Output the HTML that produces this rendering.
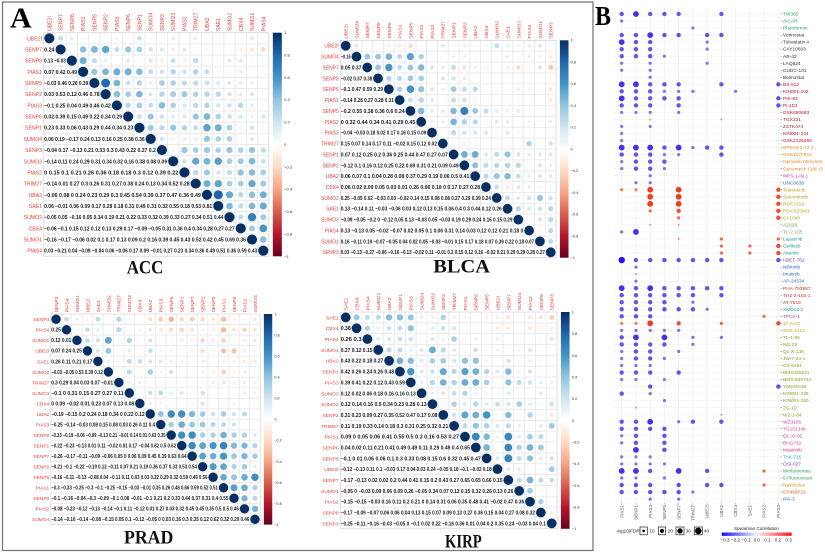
<!DOCTYPE html>
<html><head><meta charset="utf-8">
<style>
html,body{margin:0;padding:0;background:#fff;width:825px;height:557px;overflow:hidden;}
svg{display:block;}
.rl{font-family:"Liberation Sans",sans-serif;font-size:4.6px;fill:#e8413c;text-anchor:end;}
.cl{font-family:"Liberation Sans",sans-serif;font-size:4.6px;fill:#e8413c;}
.nm{font-family:"Liberation Sans",sans-serif;font-size:4.9px;font-weight:bold;fill:#1a1a1a;}
.cb{font-family:"Liberation Sans",sans-serif;font-size:3.6px;fill:#333;}
.ttl{font-family:"Liberation Serif",serif;font-weight:bold;font-size:19px;fill:#111;}
.big{font-family:"Liberation Serif",serif;font-weight:bold;fill:#000;}
.bl{font-family:"Liberation Sans",sans-serif;font-size:4.8px;}
.bc{font-family:"Liberation Sans",sans-serif;font-size:4.5px;fill:#555;text-anchor:end;}
.lg{font-family:"Liberation Sans",sans-serif;font-size:4.6px;fill:#222;}
</style></head>
<body>
<svg id="S" xmlns="http://www.w3.org/2000/svg" width="825" height="557" viewBox="0 0 825 557">
<defs>
<pattern id="grid" width="10" height="10" patternUnits="userSpaceOnUse"><rect width="10" height="10" fill="#fff" stroke="#dcdcdc" stroke-width="0.5"/></pattern>
<linearGradient id="rdbu" x1="0" y1="0" x2="0" y2="1">
<stop offset="0" stop-color="#053061"/><stop offset="0.1" stop-color="#2166ac"/><stop offset="0.2" stop-color="#4393c3"/><stop offset="0.3" stop-color="#92c5de"/><stop offset="0.4" stop-color="#d1e5f0"/><stop offset="0.5" stop-color="#ffffff"/><stop offset="0.6" stop-color="#fddbc7"/><stop offset="0.7" stop-color="#f4a582"/><stop offset="0.8" stop-color="#d6604d"/><stop offset="0.9" stop-color="#b2182b"/><stop offset="1" stop-color="#67001f"/>
</linearGradient>
<linearGradient id="bwr" x1="0" y1="0" x2="1" y2="0">
<stop offset="0" stop-color="#1010ff"/><stop offset="0.5" stop-color="#f4f0fa"/><stop offset="1" stop-color="#ff1a1a"/>
</linearGradient>
</defs>
<rect width="825" height="557" fill="#fff"/>
<rect x="2.5" y="2" width="590.5" height="548.5" fill="none" stroke="#7a7a7a" stroke-width="1.3"/>
<text class="big" x="10" y="27.3" font-size="28" textLength="21.7" lengthAdjust="spacingAndGlyphs">A</text>
<text class="big" x="595" y="25" font-size="27" textLength="16" lengthAdjust="spacingAndGlyphs">B</text>

<!-- ACC -->
<g class="mat" transform="translate(43.7,32.7) scale(1.126,1.118)">
<rect width="200" height="200" fill="url(#grid)" stroke="#d0d0d0" stroke-width="0.5"/>
<g class="circ"></g>
<text class="nm" x="0.4" y="16.8" textLength="9.2" lengthAdjust="spacingAndGlyphs">0.24</text>
<text class="nm" x="0.4" y="26.8" textLength="19.2" lengthAdjust="spacingAndGlyphs">0.13 −0.03</text>
<text class="nm" x="0.4" y="36.8" textLength="29.2" lengthAdjust="spacingAndGlyphs">0.07 0.42 0.49</text>
<text class="nm" x="0.4" y="46.8" textLength="39.2" lengthAdjust="spacingAndGlyphs">−0.03 0.46 0.26 0.39</text>
<text class="nm" x="0.4" y="56.8" textLength="49.2" lengthAdjust="spacingAndGlyphs">0.03 0.53 0.12 0.46 0.78</text>
<text class="nm" x="0.4" y="66.8" textLength="59.2" lengthAdjust="spacingAndGlyphs">−0.1 0.25 0.04 0.49 0.46 0.42</text>
<text class="nm" x="0.4" y="76.8" textLength="69.2" lengthAdjust="spacingAndGlyphs">0.02 0.39 0.15 0.49 0.22 0.34 0.29</text>
<text class="nm" x="0.4" y="86.8" textLength="79.2" lengthAdjust="spacingAndGlyphs">0.23 0.33 0.06 0.43 0.29 0.44 0.34 0.23</text>
<text class="nm" x="0.4" y="96.8" textLength="89.2" lengthAdjust="spacingAndGlyphs">0.06 0.19 −0.17 0.24 0.13 0.16 0.25 0.38 0.36</text>
<text class="nm" x="0.4" y="106.8" textLength="99.2" lengthAdjust="spacingAndGlyphs">−0.04 0.17 −0.13 0.21 0.33 0.3 0.43 0.22 0.27 0.2</text>
<text class="nm" x="0.4" y="116.8" textLength="109.2" lengthAdjust="spacingAndGlyphs">−0.14 0.11 0.24 0.29 0.31 0.34 0.32 0.16 0.38 0.08 0.09</text>
<text class="nm" x="0.4" y="126.8" textLength="119.2" lengthAdjust="spacingAndGlyphs">0 0.15 0.1 0.21 0.26 0.36 0.18 0.18 0.3 0.12 0.39 0.22</text>
<text class="nm" x="0.4" y="136.8" textLength="129.2" lengthAdjust="spacingAndGlyphs">−0.14 0.01 0.27 0.3 0.26 0.31 0.27 0.38 0.24 0.13 0.34 0.52 0.28</text>
<text class="nm" x="0.4" y="146.8" textLength="139.2" lengthAdjust="spacingAndGlyphs">−0.06 0.08 0 0.24 0.23 0.29 0.3 0.45 0.54 0.39 0.37 0.47 0.36 0.49</text>
<text class="nm" x="0.4" y="156.8" textLength="149.2" lengthAdjust="spacingAndGlyphs">0.06 −0.01 0.06 0.09 0.17 0.28 0.18 0.31 0.49 0.31 0.32 0.55 0.18 0.53 0.81</text>
<text class="nm" x="0.4" y="166.8" textLength="159.2" lengthAdjust="spacingAndGlyphs">−0.05 0.05 −0.16 0.05 0.14 0.19 0.21 0.22 0.33 0.32 0.39 0.33 0.27 0.34 0.51 0.44</text>
<text class="nm" x="0.4" y="176.8" textLength="169.2" lengthAdjust="spacingAndGlyphs">−0.06 −0.1 0.15 0.12 0.12 0.13 0.29 0.17 −0.09 −0.05 0.31 0.36 0.4 0.34 0.28 0.27 0.27</text>
<text class="nm" x="0.4" y="186.8" textLength="179.2" lengthAdjust="spacingAndGlyphs">−0.16 −0.17 −0.06 0.02 0.1 0.17 0.13 0.09 0.2 0.16 0.39 0.45 0.43 0.52 0.42 0.45 0.69 0.36</text>
<text class="nm" x="0.4" y="196.8" textLength="189.2" lengthAdjust="spacingAndGlyphs">0.03 −0.21 0.04 −0.09 −0.04 0.06 −0.06 0.17 0.09 −0.01 0.27 0.23 0.34 0.36 0.49 0.51 0.36 0.59 0.43</text>
<text class="rl"><tspan x="-1.5" y="6.8">UBE2I</tspan><tspan x="-1.5" dy="10">SENP7</tspan><tspan x="-1.5" dy="10">SENP8</tspan><tspan x="-1.5" dy="10">PIAS1</tspan><tspan x="-1.5" dy="10">SENP5</tspan><tspan x="-1.5" dy="10">SENP2</tspan><tspan x="-1.5" dy="10">PIAS3</tspan><tspan x="-1.5" dy="10">SENP6</tspan><tspan x="-1.5" dy="10">SENP1</tspan><tspan x="-1.5" dy="10">SUMO4</tspan><tspan x="-1.5" dy="10">SENP3</tspan><tspan x="-1.5" dy="10">SUMO3</tspan><tspan x="-1.5" dy="10">PIAS2</tspan><tspan x="-1.5" dy="10">TRIM27</tspan><tspan x="-1.5" dy="10">UBA2</tspan><tspan x="-1.5" dy="10">SAE1</tspan><tspan x="-1.5" dy="10">SUMO2</tspan><tspan x="-1.5" dy="10">CBX4</tspan><tspan x="-1.5" dy="10">SUMO1</tspan><tspan x="-1.5" dy="10">PIAS4</tspan></text>
<text class="cl" transform="rotate(-90)"><tspan x="1.5" y="6.8">UBE2I</tspan><tspan x="1.5" dy="10">SENP7</tspan><tspan x="1.5" dy="10">SENP8</tspan><tspan x="1.5" dy="10">PIAS1</tspan><tspan x="1.5" dy="10">SENP5</tspan><tspan x="1.5" dy="10">SENP2</tspan><tspan x="1.5" dy="10">PIAS3</tspan><tspan x="1.5" dy="10">SENP6</tspan><tspan x="1.5" dy="10">SENP1</tspan><tspan x="1.5" dy="10">SUMO4</tspan><tspan x="1.5" dy="10">SENP3</tspan><tspan x="1.5" dy="10">SUMO3</tspan><tspan x="1.5" dy="10">PIAS2</tspan><tspan x="1.5" dy="10">TRIM27</tspan><tspan x="1.5" dy="10">UBA2</tspan><tspan x="1.5" dy="10">SAE1</tspan><tspan x="1.5" dy="10">SUMO2</tspan><tspan x="1.5" dy="10">CBX4</tspan><tspan x="1.5" dy="10">SUMO1</tspan><tspan x="1.5" dy="10">PIAS4</tspan></text>
<rect x="203.5" y="0" width="8" height="200" fill="url(#rdbu)"/>
<text class="cb"><tspan x="213.5" y="1.3">1</tspan><tspan x="213.5" dy="20">0.8</tspan><tspan x="213.5" dy="20">0.6</tspan><tspan x="213.5" dy="20">0.4</tspan><tspan x="213.5" dy="20">0.2</tspan><tspan x="213.5" dy="20">0</tspan><tspan x="213.5" dy="20">−0.2</tspan><tspan x="213.5" dy="20">−0.4</tspan><tspan x="213.5" dy="20">−0.6</tspan><tspan x="213.5" dy="20">−0.8</tspan><tspan x="213.5" dy="20">−1</tspan></text>
</g>
<text class="ttl" x="126.7" y="273.3" textLength="36.7" lengthAdjust="spacingAndGlyphs">ACC</text>

<!-- BLCA -->
<g class="mat" transform="translate(340.3,40.3) scale(1.079,1.087)">
<rect width="200" height="200" fill="url(#grid)" stroke="#d0d0d0" stroke-width="0.5"/>
<g class="circ"></g>
<text class="nm" x="0.4" y="16.8" textLength="9.2" lengthAdjust="spacingAndGlyphs">−0.16</text>
<text class="nm" x="0.4" y="26.8" textLength="19.2" lengthAdjust="spacingAndGlyphs">0.05 0.37</text>
<text class="nm" x="0.4" y="36.8" textLength="29.2" lengthAdjust="spacingAndGlyphs">−0.02 0.37 0.38</text>
<text class="nm" x="0.4" y="46.8" textLength="39.2" lengthAdjust="spacingAndGlyphs">−0.1 0.47 0.59 0.29</text>
<text class="nm" x="0.4" y="56.8" textLength="49.2" lengthAdjust="spacingAndGlyphs">−0.14 0.28 0.27 0.28 0.31</text>
<text class="nm" x="0.4" y="66.8" textLength="59.2" lengthAdjust="spacingAndGlyphs">−0.2 0.55 0.38 0.36 0.6 0.24</text>
<text class="nm" x="0.4" y="76.8" textLength="69.2" lengthAdjust="spacingAndGlyphs">0 0.32 0.44 0.34 0.41 0.29 0.45</text>
<text class="nm" x="0.4" y="86.8" textLength="79.2" lengthAdjust="spacingAndGlyphs">−0.04 −0.03 0.18 0.02 0.17 0.16 0.15 0.09</text>
<text class="nm" x="0.4" y="96.8" textLength="89.2" lengthAdjust="spacingAndGlyphs">0.15 0.07 0.14 0.17 0.11 −0.02 0.15 0.12 0.02</text>
<text class="nm" x="0.4" y="106.8" textLength="99.2" lengthAdjust="spacingAndGlyphs">0.07 0.12 0.25 0.2 0.36 0.25 0.44 0.47 0.27 0.07</text>
<text class="nm" x="0.4" y="116.8" textLength="109.2" lengthAdjust="spacingAndGlyphs">−0.12 0.1 0.16 0.12 0.25 0.22 0.69 0.31 0.21 0.09 0.49</text>
<text class="nm" x="0.4" y="126.8" textLength="119.2" lengthAdjust="spacingAndGlyphs">0.06 0.07 0.1 0.04 0.28 0.08 0.37 0.29 0.19 0.06 0.5 0.41</text>
<text class="nm" x="0.4" y="136.8" textLength="129.2" lengthAdjust="spacingAndGlyphs">0.06 0.02 0.09 0.05 0.03 0.01 0.26 0.06 0.18 0 0.17 0.27 0.28</text>
<text class="nm" x="0.4" y="146.8" textLength="139.2" lengthAdjust="spacingAndGlyphs">0.25 −0.05 0.02 −0.03 0.03 −0.02 0.14 0.15 0.08 0.08 0.27 0.29 0.39 0.24</text>
<text class="nm" x="0.4" y="156.8" textLength="149.2" lengthAdjust="spacingAndGlyphs">0.13 −0.14 0.11 −0.03 −0.06 0.03 0.12 0.13 0.15 0.06 0.4 0.3 0.44 0.12 0.26</text>
<text class="nm" x="0.4" y="166.8" textLength="159.2" lengthAdjust="spacingAndGlyphs">−0.09 −0.05 −0.2 0 −0.12 0.05 0.13 −0.03 0.05 −0.03 0.19 0.29 0.24 0.16 0.15 0.29</text>
<text class="nm" x="0.4" y="176.8" textLength="169.2" lengthAdjust="spacingAndGlyphs">0.13 −0.13 0.05 −0.02 −0.07 0.02 0.05 0.1 0.06 0.31 0.14 0.03 0.12 0.12 0.21 0.18 0</text>
<text class="nm" x="0.4" y="186.8" textLength="179.2" lengthAdjust="spacingAndGlyphs">0.16 −0.11 0.19 −0.07 −0.05 0.04 0.02 0.05 −0.03 −0.01 0.15 0.17 0.18 0.07 0.39 0.22 0.18 0.07</text>
<text class="nm" x="0.4" y="196.8" textLength="189.2" lengthAdjust="spacingAndGlyphs">0.03 −0.13 −0.27 −0.06 −0.16 −0.13 −0.02 0.11 −0.01 0.2 0.15 0.12 0.16 −0.02 0.21 0.29 0.29 0.28 0.27</text>
<text class="rl"><tspan x="-1.5" y="6.8">UBE2I</tspan><tspan x="-1.5" dy="10">SUMO4</tspan><tspan x="-1.5" dy="10">SENP7</tspan><tspan x="-1.5" dy="10">SENP8</tspan><tspan x="-1.5" dy="10">SENP6</tspan><tspan x="-1.5" dy="10">PIAS1</tspan><tspan x="-1.5" dy="10">SENP5</tspan><tspan x="-1.5" dy="10">PIAS2</tspan><tspan x="-1.5" dy="10">PIAS3</tspan><tspan x="-1.5" dy="10">TRIM27</tspan><tspan x="-1.5" dy="10">SENP1</tspan><tspan x="-1.5" dy="10">SENP2</tspan><tspan x="-1.5" dy="10">UBA2</tspan><tspan x="-1.5" dy="10">CBX4</tspan><tspan x="-1.5" dy="10">SUMO2</tspan><tspan x="-1.5" dy="10">SAE1</tspan><tspan x="-1.5" dy="10">SUMO3</tspan><tspan x="-1.5" dy="10">PIAS4</tspan><tspan x="-1.5" dy="10">SUMO1</tspan><tspan x="-1.5" dy="10">SENP3</tspan></text>
<text class="cl" transform="rotate(-90)"><tspan x="1.5" y="6.8">UBE2I</tspan><tspan x="1.5" dy="10">SUMO4</tspan><tspan x="1.5" dy="10">SENP7</tspan><tspan x="1.5" dy="10">SENP8</tspan><tspan x="1.5" dy="10">SENP6</tspan><tspan x="1.5" dy="10">PIAS1</tspan><tspan x="1.5" dy="10">SENP5</tspan><tspan x="1.5" dy="10">PIAS2</tspan><tspan x="1.5" dy="10">PIAS3</tspan><tspan x="1.5" dy="10">TRIM27</tspan><tspan x="1.5" dy="10">SENP1</tspan><tspan x="1.5" dy="10">SENP2</tspan><tspan x="1.5" dy="10">UBA2</tspan><tspan x="1.5" dy="10">CBX4</tspan><tspan x="1.5" dy="10">SUMO2</tspan><tspan x="1.5" dy="10">SAE1</tspan><tspan x="1.5" dy="10">SUMO3</tspan><tspan x="1.5" dy="10">PIAS4</tspan><tspan x="1.5" dy="10">SUMO1</tspan><tspan x="1.5" dy="10">SENP3</tspan></text>
<rect x="203.5" y="0" width="8" height="200" fill="url(#rdbu)"/>
<text class="cb"><tspan x="213.5" y="1.3">1</tspan><tspan x="213.5" dy="20">0.8</tspan><tspan x="213.5" dy="20">0.6</tspan><tspan x="213.5" dy="20">0.4</tspan><tspan x="213.5" dy="20">0.2</tspan><tspan x="213.5" dy="20">0</tspan><tspan x="213.5" dy="20">−0.2</tspan><tspan x="213.5" dy="20">−0.4</tspan><tspan x="213.5" dy="20">−0.6</tspan><tspan x="213.5" dy="20">−0.8</tspan><tspan x="213.5" dy="20">−1</tspan></text>
</g>
<text class="ttl" x="433.3" y="272.7" textLength="56.7" lengthAdjust="spacingAndGlyphs">BLCA</text>

<!-- PRAD -->
<g class="mat" transform="translate(50.8,314) scale(1.047,1.053)">
<rect width="200" height="200" fill="url(#grid)" stroke="#d0d0d0" stroke-width="0.5"/>
<g class="circ"></g>
<text class="nm" x="0.4" y="16.8" textLength="9.2" lengthAdjust="spacingAndGlyphs">0.25</text>
<text class="nm" x="0.4" y="26.8" textLength="19.2" lengthAdjust="spacingAndGlyphs">0.12 0.01</text>
<text class="nm" x="0.4" y="36.8" textLength="29.2" lengthAdjust="spacingAndGlyphs">0.07 0.24 0.25</text>
<text class="nm" x="0.4" y="46.8" textLength="39.2" lengthAdjust="spacingAndGlyphs">0.26 0.11 0.21 0.17</text>
<text class="nm" x="0.4" y="56.8" textLength="49.2" lengthAdjust="spacingAndGlyphs">−0.03 −0.05 0.53 0.39 0.12</text>
<text class="nm" x="0.4" y="66.8" textLength="59.2" lengthAdjust="spacingAndGlyphs">0.3 0.29 0.04 0.03 0.07 −0.01</text>
<text class="nm" x="0.4" y="76.8" textLength="69.2" lengthAdjust="spacingAndGlyphs">−0.1 0 0.31 0.15 0.27 0.27 0.11</text>
<text class="nm" x="0.4" y="86.8" textLength="79.2" lengthAdjust="spacingAndGlyphs">0 0.09 −0.02 0.01 0.23 0.07 0.13 0.08</text>
<text class="nm" x="0.4" y="96.8" textLength="89.2" lengthAdjust="spacingAndGlyphs">−0.19 −0.15 0.2 0.24 0.18 0.34 0 0.22 0.12</text>
<text class="nm" x="0.4" y="106.8" textLength="99.2" lengthAdjust="spacingAndGlyphs">−0.25 −0.14 −0.03 0.08 0.15 0.08 0.03 0.26 0.11 0.4</text>
<text class="nm" x="0.4" y="116.8" textLength="109.2" lengthAdjust="spacingAndGlyphs">−0.33 −0.19 −0.06 −0.09 −0.13 0.21 −0.01 0.14 0.01 0.63 0.35</text>
<text class="nm" x="0.4" y="126.8" textLength="119.2" lengthAdjust="spacingAndGlyphs">−0.22 −0.23 −0.13 0.01 0.11 −0.02 0.01 0.17 −0.04 0.62 0.5 0.62</text>
<text class="nm" x="0.4" y="136.8" textLength="129.2" lengthAdjust="spacingAndGlyphs">−0.26 −0.17 −0.11 −0.09 −0.06 0.05 0 0.06 0.09 0.45 0.39 0.63 0.64</text>
<text class="nm" x="0.4" y="146.8" textLength="139.2" lengthAdjust="spacingAndGlyphs">−0.21 −0.1 −0.22 −0.19 0.12 −0.11 0.07 0.21 0.19 0.36 0.37 0.33 0.53 0.54</text>
<text class="nm" x="0.4" y="156.8" textLength="149.2" lengthAdjust="spacingAndGlyphs">−0.16 −0.11 −0.13 −0.08 0.04 −0.11 0.11 0.03 0.03 0.22 0.29 0.32 0.59 0.49 0.56</text>
<text class="nm" x="0.4" y="166.8" textLength="159.2" lengthAdjust="spacingAndGlyphs">−0.3 −0.33 −0.25 −0.3 −0.1 −0.25 −0.15 −0.03 −0.01 0.35 0.26 0.48 0.66 0.59 0.52 0.51</text>
<text class="nm" x="0.4" y="176.8" textLength="169.2" lengthAdjust="spacingAndGlyphs">−0.1 −0.16 −0.04 −0.3 −0.09 −0.1 0.08 −0.01 −0.1 0.21 0.2 0.33 0.44 0.37 0.31 0.4 0.55</text>
<text class="nm" x="0.4" y="186.8" textLength="179.2" lengthAdjust="spacingAndGlyphs">−0.08 −0.23 −0.12 −0.13 −0.14 −0.1 0.11 −0.12 0.01 0.27 0.03 0.32 0.45 0.45 0.35 0.5 0.5 0.46</text>
<text class="nm" x="0.4" y="196.8" textLength="189.2" lengthAdjust="spacingAndGlyphs">−0.14 −0.16 −0.14 −0.08 −0.15 0.05 0.1 −0.12 −0.05 0 0.03 0.16 0.3 0.35 0.12 0.62 0.32 0.29 0.46</text>
<text class="rl"><tspan x="-1.5" y="6.8">SENP3</tspan><tspan x="-1.5" dy="10">PIAS4</tspan><tspan x="-1.5" dy="10">SUMO1</tspan><tspan x="-1.5" dy="10">UBE2I</tspan><tspan x="-1.5" dy="10">SAE1</tspan><tspan x="-1.5" dy="10">SUMO2</tspan><tspan x="-1.5" dy="10">TRIM27</tspan><tspan x="-1.5" dy="10">SUMO3</tspan><tspan x="-1.5" dy="10">CBX4</tspan><tspan x="-1.5" dy="10">UBA2</tspan><tspan x="-1.5" dy="10">PIAS3</tspan><tspan x="-1.5" dy="10">SENP6</tspan><tspan x="-1.5" dy="10">SENP1</tspan><tspan x="-1.5" dy="10">SENP7</tspan><tspan x="-1.5" dy="10">SENP2</tspan><tspan x="-1.5" dy="10">SENP5</tspan><tspan x="-1.5" dy="10">PIAS1</tspan><tspan x="-1.5" dy="10">SENP8</tspan><tspan x="-1.5" dy="10">PIAS2</tspan><tspan x="-1.5" dy="10">SUMO4</tspan></text>
<text class="cl" transform="rotate(-90)"><tspan x="1.5" y="6.8">SENP3</tspan><tspan x="1.5" dy="10">PIAS4</tspan><tspan x="1.5" dy="10">SUMO1</tspan><tspan x="1.5" dy="10">UBE2I</tspan><tspan x="1.5" dy="10">SAE1</tspan><tspan x="1.5" dy="10">SUMO2</tspan><tspan x="1.5" dy="10">TRIM27</tspan><tspan x="1.5" dy="10">SUMO3</tspan><tspan x="1.5" dy="10">CBX4</tspan><tspan x="1.5" dy="10">UBA2</tspan><tspan x="1.5" dy="10">PIAS3</tspan><tspan x="1.5" dy="10">SENP6</tspan><tspan x="1.5" dy="10">SENP1</tspan><tspan x="1.5" dy="10">SENP7</tspan><tspan x="1.5" dy="10">SENP2</tspan><tspan x="1.5" dy="10">SENP5</tspan><tspan x="1.5" dy="10">PIAS1</tspan><tspan x="1.5" dy="10">SENP8</tspan><tspan x="1.5" dy="10">PIAS2</tspan><tspan x="1.5" dy="10">SUMO4</tspan></text>
<rect x="203.5" y="0" width="8" height="200" fill="url(#rdbu)"/>
<text class="cb"><tspan x="213.5" y="1.3">1</tspan><tspan x="213.5" dy="20">0.8</tspan><tspan x="213.5" dy="20">0.6</tspan><tspan x="213.5" dy="20">0.4</tspan><tspan x="213.5" dy="20">0.2</tspan><tspan x="213.5" dy="20">0</tspan><tspan x="213.5" dy="20">−0.2</tspan><tspan x="213.5" dy="20">−0.4</tspan><tspan x="213.5" dy="20">−0.6</tspan><tspan x="213.5" dy="20">−0.8</tspan><tspan x="213.5" dy="20">−1</tspan></text>
</g>
<text class="ttl" x="124" y="543.3" textLength="49.3" lengthAdjust="spacingAndGlyphs">PRAD</text>

<!-- KIRP -->
<g class="mat" transform="translate(340.3,312) scale(1.084,1.084)">
<rect width="200" height="200" fill="url(#grid)" stroke="#d0d0d0" stroke-width="0.5"/>
<g class="circ"></g>
<text class="nm" x="0.4" y="16.8" textLength="9.2" lengthAdjust="spacingAndGlyphs">0.38</text>
<text class="nm" x="0.4" y="26.8" textLength="19.2" lengthAdjust="spacingAndGlyphs">0.26 0.3</text>
<text class="nm" x="0.4" y="36.8" textLength="29.2" lengthAdjust="spacingAndGlyphs">0.27 0.12 0.15</text>
<text class="nm" x="0.4" y="46.8" textLength="39.2" lengthAdjust="spacingAndGlyphs">0.43 0.22 0.18 0.27</text>
<text class="nm" x="0.4" y="56.8" textLength="49.2" lengthAdjust="spacingAndGlyphs">0.42 0.26 0.24 0.26 0.48</text>
<text class="nm" x="0.4" y="66.8" textLength="59.2" lengthAdjust="spacingAndGlyphs">0.39 0.41 0.22 0.12 0.43 0.59</text>
<text class="nm" x="0.4" y="76.8" textLength="69.2" lengthAdjust="spacingAndGlyphs">0.12 0.02 0.06 0.18 0.16 0.16 0.13</text>
<text class="nm" x="0.4" y="86.8" textLength="79.2" lengthAdjust="spacingAndGlyphs">0.12 0.14 0.16 0.5 0.34 0.23 0.28 0.13</text>
<text class="nm" x="0.4" y="96.8" textLength="89.2" lengthAdjust="spacingAndGlyphs">0.31 0.23 0.09 0.27 0.35 0.52 0.47 0.17 0.08</text>
<text class="nm" x="0.4" y="106.8" textLength="99.2" lengthAdjust="spacingAndGlyphs">0.11 0.19 0.33 0.14 0.18 0.3 0.31 0.25 0.32 0.21</text>
<text class="nm" x="0.4" y="116.8" textLength="109.2" lengthAdjust="spacingAndGlyphs">0.09 0 0.05 0.06 0.41 0.55 0.5 0.3 0.16 0.53 0.27</text>
<text class="nm" x="0.4" y="126.8" textLength="119.2" lengthAdjust="spacingAndGlyphs">0.04 0.02 0.11 0.21 0.41 0.49 0.49 0.11 0.29 0.49 0.4 0.65</text>
<text class="nm" x="0.4" y="136.8" textLength="129.2" lengthAdjust="spacingAndGlyphs">−0.1 0.01 0.06 0.06 0.1 0.3 0.33 0.08 0.15 0.6 0.32 0.45 0.47</text>
<text class="nm" x="0.4" y="146.8" textLength="139.2" lengthAdjust="spacingAndGlyphs">−0.12 −0.13 0.11 0.1 −0.03 0.17 0.04 0.03 0.24 −0.05 0.18 −0.1 −0.02 0.18</text>
<text class="nm" x="0.4" y="156.8" textLength="149.2" lengthAdjust="spacingAndGlyphs">−0.17 −0.13 0.02 0.02 0.2 0.44 0.41 0.15 0.2 0.43 0.27 0.65 0.65 0.66 0.15</text>
<text class="nm" x="0.4" y="166.8" textLength="159.2" lengthAdjust="spacingAndGlyphs">−0.05 0 −0.03 0.09 0.06 0.09 0.26 −0.05 0.34 0.07 0.12 0.15 0.32 0.26 0.13 0.26</text>
<text class="nm" x="0.4" y="176.8" textLength="169.2" lengthAdjust="spacingAndGlyphs">−0.15 −0.15 −0.03 0.16 0.11 0.2 0.21 0 0.14 0.31 0.06 0.35 0.48 0.41 −0.02 0.47 0.36</text>
<text class="nm" x="0.4" y="186.8" textLength="179.2" lengthAdjust="spacingAndGlyphs">−0.17 −0.09 −0.07 0.06 0.06 0.04 0.13 0.15 0.07 0.09 0.13 0.27 0.36 0.15 0.04 0.27 0.08 0.32</text>
<text class="nm" x="0.4" y="196.8" textLength="189.2" lengthAdjust="spacingAndGlyphs">−0.25 −0.11 −0.16 −0.03 −0.05 0 −0.1 0.02 0.22 −0.16 0.36 0.01 0.04 0.2 0.35 0.24 −0.03 0.04 0.1</text>
<text class="rl"><tspan x="-1.5" y="6.8">SAE1</tspan><tspan x="-1.5" dy="10">CBX4</tspan><tspan x="-1.5" dy="10">PIAS4</tspan><tspan x="-1.5" dy="10">SUMO1</tspan><tspan x="-1.5" dy="10">UBA2</tspan><tspan x="-1.5" dy="10">SENP1</tspan><tspan x="-1.5" dy="10">PIAS3</tspan><tspan x="-1.5" dy="10">SUMO3</tspan><tspan x="-1.5" dy="10">SUMO2</tspan><tspan x="-1.5" dy="10">SENP2</tspan><tspan x="-1.5" dy="10">TRIM27</tspan><tspan x="-1.5" dy="10">PIAS1</tspan><tspan x="-1.5" dy="10">SENP6</tspan><tspan x="-1.5" dy="10">SENP5</tspan><tspan x="-1.5" dy="10">UBE2I</tspan><tspan x="-1.5" dy="10">SENP7</tspan><tspan x="-1.5" dy="10">SUMO4</tspan><tspan x="-1.5" dy="10">PIAS2</tspan><tspan x="-1.5" dy="10">SENP8</tspan><tspan x="-1.5" dy="10">SENP3</tspan></text>
<text class="cl" transform="rotate(-90)"><tspan x="1.5" y="6.8">SAE1</tspan><tspan x="1.5" dy="10">CBX4</tspan><tspan x="1.5" dy="10">PIAS4</tspan><tspan x="1.5" dy="10">SUMO1</tspan><tspan x="1.5" dy="10">UBA2</tspan><tspan x="1.5" dy="10">SENP1</tspan><tspan x="1.5" dy="10">PIAS3</tspan><tspan x="1.5" dy="10">SUMO3</tspan><tspan x="1.5" dy="10">SUMO2</tspan><tspan x="1.5" dy="10">SENP2</tspan><tspan x="1.5" dy="10">TRIM27</tspan><tspan x="1.5" dy="10">PIAS1</tspan><tspan x="1.5" dy="10">SENP6</tspan><tspan x="1.5" dy="10">SENP5</tspan><tspan x="1.5" dy="10">UBE2I</tspan><tspan x="1.5" dy="10">SENP7</tspan><tspan x="1.5" dy="10">SUMO4</tspan><tspan x="1.5" dy="10">PIAS2</tspan><tspan x="1.5" dy="10">SENP8</tspan><tspan x="1.5" dy="10">SENP3</tspan></text>
<rect x="203.5" y="0" width="8" height="200" fill="url(#rdbu)"/>
<text class="cb"><tspan x="213.5" y="1.3">1</tspan><tspan x="213.5" dy="20">0.8</tspan><tspan x="213.5" dy="20">0.6</tspan><tspan x="213.5" dy="20">0.4</tspan><tspan x="213.5" dy="20">0.2</tspan><tspan x="213.5" dy="20">0</tspan><tspan x="213.5" dy="20">−0.2</tspan><tspan x="213.5" dy="20">−0.4</tspan><tspan x="213.5" dy="20">−0.6</tspan><tspan x="213.5" dy="20">−0.8</tspan><tspan x="213.5" dy="20">−1</tspan></text>
</g>
<text class="ttl" x="445" y="547.7" textLength="36.7" lengthAdjust="spacingAndGlyphs">KIRP</text>

<!-- Panel B -->
<g id="bgrid"></g>
<g id="bdots"></g>
<text class="bl" transform="translate(783,15.6)"><tspan x="0" fill="#2ca25f">TW365</tspan><tspan x="0" dy="7.03" fill="#2ca25f">AICAR</tspan><tspan x="0" dy="7.03" fill="#2ca25f">Phenformin</tspan><tspan x="0" dy="7.03" fill="#333">Vorinostat</tspan><tspan x="0" dy="7.03" fill="#333">Tubastatin A</tspan><tspan x="0" dy="7.03" fill="#333">CAY10603</tspan><tspan x="0" dy="7.03" fill="#333">AR-42</tspan><tspan x="0" dy="7.03" fill="#333">LAQ824</tspan><tspan x="0" dy="7.03" fill="#333">CUDC-101</tspan><tspan x="0" dy="7.03" fill="#333">Belinostat</tspan><tspan x="0" dy="7.03" fill="#b2182b">BX-912</tspan><tspan x="0" dy="7.03" fill="#b2182b">KIN001-102</tspan><tspan x="0" dy="7.03" fill="#b2182b">PIK-93</tspan><tspan x="0" dy="7.03" fill="#b2182b">PI-103</tspan><tspan x="0" dy="7.03" fill="#b2182b">GSK690693</tspan><tspan x="0" dy="7.03" fill="#b2182b">TGX221</tspan><tspan x="0" dy="7.03" fill="#b2182b">ZSTK474</tspan><tspan x="0" dy="7.03" fill="#b2182b">KIN001-244</tspan><tspan x="0" dy="7.03" fill="#b2182b">GSK2126458</tspan><tspan x="0" dy="7.03" fill="#e6891f">NPK76-II-72-1</tspan><tspan x="0" dy="7.03" fill="#e6891f">GSK1070916</tspan><tspan x="0" dy="7.03" fill="#e6891f">Ispinesib Mesylate</tspan><tspan x="0" dy="7.03" fill="#e6891f">Genentech Cpd 10</tspan><tspan x="0" dy="7.03" fill="#d63fa0">MPS-1-IN-1</tspan><tspan x="0" dy="7.03" fill="#3b64c4">UNC0638</tspan><tspan x="0" dy="7.03" fill="#b8a51e">Trametinib</tspan><tspan x="0" dy="7.03" fill="#b8a51e">Selumetinib</tspan><tspan x="0" dy="7.03" fill="#b8a51e">RDEA119</tspan><tspan x="0" dy="7.03" fill="#b8a51e">PD-0325901</tspan><tspan x="0" dy="7.03" fill="#b8a51e">CI-1040</tspan><tspan x="0" dy="7.03" fill="#6aa84f">AZ628</tspan><tspan x="0" dy="7.03" fill="#6aa84f">TL-2-105</tspan><tspan x="0" dy="7.03" fill="#1f9e9e">Lapatinib</tspan><tspan x="0" dy="7.03" fill="#1f9e9e">Gefitinib</tspan><tspan x="0" dy="7.03" fill="#1f9e9e">Afatinib</tspan><tspan x="0" dy="7.03" fill="#7b3fb0">I-BET-762</tspan><tspan x="0" dy="7.03" fill="#3b64c4">Nilotinib</tspan><tspan x="0" dy="7.03" fill="#3b64c4">Imatinib</tspan><tspan x="0" dy="7.03" fill="#3b64c4">AP-24534</tspan><tspan x="0" dy="7.03" fill="#c0392b">PHA-793887</tspan><tspan x="0" dy="7.03" fill="#c0392b">THZ-2-102-1</tspan><tspan x="0" dy="7.03" fill="#c0392b">AT-7519</tspan><tspan x="0" dy="7.03" fill="#1f9e9e">XMD13-2</tspan><tspan x="0" dy="7.03" fill="#7b3fb0">TPCA-1</tspan><tspan x="0" dy="7.03" fill="#b8a51e">17-AAG</tspan><tspan x="0" dy="7.03" fill="#b8a51e">SNX-2112</tspan><tspan x="0" dy="7.03" fill="#7ea31f">TL-1-85</tspan><tspan x="0" dy="7.03" fill="#7ea31f">NG-25</tspan><tspan x="0" dy="7.03" fill="#7ea31f">QL-X-138</tspan><tspan x="0" dy="7.03" fill="#7ea31f">JW-7-24-1</tspan><tspan x="0" dy="7.03" fill="#7ea31f">CX-5461</tspan><tspan x="0" dy="7.03" fill="#7ea31f">BMS345541</tspan><tspan x="0" dy="7.03" fill="#7ea31f">BMS-509744</tspan><tspan x="0" dy="7.03" fill="#7ea31f">YM201636</tspan><tspan x="0" dy="7.03" fill="#7ea31f">KIN001-236</tspan><tspan x="0" dy="7.03" fill="#7ea31f">KIN001-260</tspan><tspan x="0" dy="7.03" fill="#7ea31f">ZG-10</tspan><tspan x="0" dy="7.03" fill="#7ea31f">WZ-1-84</tspan><tspan x="0" dy="7.03" fill="#d63fa0">WZ3105</tspan><tspan x="0" dy="7.03" fill="#d63fa0">TG101348</tspan><tspan x="0" dy="7.03" fill="#d63fa0">QL-XI-92</tspan><tspan x="0" dy="7.03" fill="#d63fa0">BHG712</tspan><tspan x="0" dy="7.03" fill="#d63fa0">Masitinib</tspan><tspan x="0" dy="7.03" fill="#22a7c0">TAK-715</tspan><tspan x="0" dy="7.03" fill="#7b3fb0">OSI-027</tspan><tspan x="0" dy="7.03" fill="#2ca25f">Methotrexate</tspan><tspan x="0" dy="7.03" fill="#2ca25f">5-Fluorouracil</tspan><tspan x="0" dy="7.03" fill="#e6891f">Navitoclax</tspan><tspan x="0" dy="7.03" fill="#e05a2a">CP466722</tspan><tspan x="0" dy="7.03" fill="#3b64c4">IPA-3</tspan></text>
<text class="bc" transform="rotate(-90)"><tspan x="-505" y="623.3">PIAS1</tspan><tspan x="-505" y="637.54">SENP1</tspan><tspan x="-505" y="651.78">PIAS4</tspan><tspan x="-505" y="666.02">SENP5</tspan><tspan x="-505" y="680.26">SENP7</tspan><tspan x="-505" y="694.5">TRIM27</tspan><tspan x="-505" y="708.74">UBE2I</tspan><tspan x="-505" y="722.98">UBA2</tspan><tspan x="-505" y="737.22">CBX4</tspan><tspan x="-505" y="751.46">SAE1</tspan><tspan x="-505" y="765.7">PIAS2</tspan><tspan x="-505" y="779.94">PIAS3</tspan></text>

<!-- Legend B -->
<text class="lg" x="616" y="532.7">-log10(FDR)</text>
<rect x="640" y="527" width="7.3" height="7.8" fill="#fff" stroke="#222" stroke-width="0.7"/><circle cx="643.65" cy="530.9" r="1.3" fill="#000"/>
<text class="lg" x="649.5" y="532.7">10</text>
<rect x="658.3" y="527" width="7.4" height="7.8" fill="#fff" stroke="#222" stroke-width="0.7"/><circle cx="662" cy="530.9" r="2" fill="#000"/>
<text class="lg" x="667.8" y="532.7">20</text>
<rect x="676" y="527" width="8" height="7.8" fill="#fff" stroke="#222" stroke-width="0.7"/><circle cx="680" cy="530.9" r="2.7" fill="#000"/>
<text class="lg" x="685.8" y="532.7">30</text>
<rect x="694.3" y="527" width="8" height="7.8" fill="#fff" stroke="#222" stroke-width="0.7"/><circle cx="698.3" cy="530.9" r="3.3" fill="#000"/>
<text class="lg" x="704" y="532.7">40</text>
<text class="lg" x="756.5" y="530" text-anchor="middle">Spearman Correlation</text>
<rect x="721.7" y="532.5" width="70" height="3.4" fill="url(#bwr)"/>
<text class="lg" y="541.6" text-anchor="middle"><tspan x="725">−0.3</tspan><tspan x="735.6">−0.2</tspan><tspan x="746.2">−0.1</tspan><tspan x="756.8">0.0</tspan><tspan x="767.4">0.1</tspan><tspan x="778">0.2</tspan><tspan x="788.6">0.3</tspan></text>
</svg>
<script>
(function(){
var NS='http://www.w3.org/2000/svg';
var stops=[[-1,[103,0,31]],[-0.8,[178,24,43]],[-0.6,[214,96,77]],[-0.4,[244,165,130]],[-0.2,[253,219,199]],[0,[255,255,255]],[0.2,[209,229,240]],[0.4,[146,197,222]],[0.6,[67,147,195]],[0.8,[33,102,172]],[1,[5,48,97]]];
function col(v){v=Math.max(-1,Math.min(1,v));for(var k=0;k<stops.length-1;k++){var a=stops[k],b=stops[k+1];if(v<=b[0]){var t=(v-a[0])/(b[0]-a[0]);var c=[0,1,2].map(function(i){return Math.round(a[1][i]+(b[1][i]-a[1][i])*t);});return 'rgb('+c.join(',')+')';}}return 'rgb(5,48,97)';}
function el(n,attrs,parent){var e=document.createElementNS(NS,n);for(var k in attrs)e.setAttribute(k,attrs[k]);parent.appendChild(e);return e;}
var mats=document.querySelectorAll('g.mat');
for(var m=0;m<mats.length;m++){
 var g=mats[m];var cg=g.querySelector('g.circ');
 var add=function(cx,cy,v){el('circle',{cx:cx,cy:cy,r:(4.5*Math.sqrt(Math.abs(v))).toFixed(2),fill:col(v)},cg);};
 for(var i=0;i<20;i++)add(10*i+5,10*i+5,1);
 var ts=g.querySelectorAll('text.nm');
 for(var r=0;r<ts.length;r++){
  var ii=r+1;var vals=ts[r].textContent.replace(/\u2212/g,'-').trim().split(/\s+/).map(Number);
  for(var j=0;j<vals.length;j++)add(10*ii+5,10*j+5,vals[j]);
 }
}
// Panel B
var gg=document.getElementById('bgrid'),gd=document.getElementById('bdots');
function cx(k){return 621.7+14.24*k;} function cy(i){return 14+7.03*i;}
for(var k=0;k<12;k++)el('line',{x1:cx(k),x2:cx(k),y1:8,y2:503,stroke:'#e6e6e6','stroke-width':0.5},gg);
for(var i=0;i<70;i++){el('line',{x1:614,x2:786,y1:cy(i),y2:cy(i),stroke:'#ececec','stroke-width':0.5},gg);el('line',{x1:780.5,x2:782.3,y1:cy(i),y2:cy(i),stroke:'#666','stroke-width':0.4},gg);}
for(var k=0;k<12;k++)el('line',{x1:cx(k),x2:cx(k),y1:503,y2:504.8,stroke:'#666','stroke-width':0.4},gg);
var B=["0m 1l 2m 3m 4m 7m","0s","5s","0m 1m 2l 3m 4m 6m 7m","0l 1m 2m 6s","0m 1m 2m 6s","0m 1m 2m 3s","0s 2s 6s","0s 2s","2s",
"0l 1l 2m 3m 4m 7m 11m","0m 1m 2m 3s 4s 5s 8s","0l 1m 2m 3m 4m 11m","0m 1m 2m 4m 11m","0s 1s 2s 4s","2to 7to","0s 2s","0s","0s",
"0l 1l 2l 3m 4l 5s 6m 7m","0m 1m 2m 3s 4s 7m","0s 1m 2m 3m","0s 1m 2m 3s","2s","1s 2s",
"0so 1so 2lr 4lr 11mr","2lr 4lr 11mr","2lr 4lr 11mr","2sr 4mr 11mr","4sr 11mr","2tr 4tr","0s 1l","4tr 7sr 11sr","7sr 9sr 11mr","7sr 9sr 11mr",
"0L 1m 2m 3m 4m 5m 6m 7m 11m","1s","1t","1s","0l 1m 2l 3m 4m 5m 6m 7m","0m 1m 2m 3m 4m 5m 7m","0m 1m 2m 3m 5s","0m 1m 2m 3m 4m 5m 6s","0m 1m 2m 10sr",
"0so 1so 2lr 4mr 7sr 11mr","0s 1s 2s 3s 4s","0m 1l 3l 5s 7s","0m 1m 2m 3m 5s","0s 1m 2m 4s","0s 1m 2m 3s","0s 1s 2s","0m 1m 2m 4m","0s 1s 3s","2m 11m","0m 2s","3s","1t","7tr",
"0m 1m 2l 4s 5m 7m","0m 1m 2m 3m","0s 1m 3m","0s 1m 3m","1l 3m","0s 1s 2s","0s 1s 2s 3s","0l 1l 2m 4l 6m 10sr","0s 1s 3s","0m 1m 2m 4m 6m 7m 10sr","0m 1m 2m 3m 4m 5s","2s 4s"];
var R={t:1,s:1.6,m:2.2,l:2.9,L:3.2};
var CB={t:'#a49ae9',s:'#8174e6',m:'#6554e3',l:'#4232e8',L:'#2a10ee'};
var CR={t:'#ee9070',s:'#ec6c4a',m:'#ec5030',l:'#f03c1c',L:'#f03010'};
var CO={t:'#dca070',s:'#d88c50',m:'#d87a40',l:'#d86a30',L:'#d86a30'};
for(var i=0;i<B.length;i++){
 var toks=B[i].split(' ');
 for(var t=0;t<toks.length;t++){
  var m2=toks[t].match(/^(\d+)([tsmlL])([ro]?)$/);if(!m2)continue;
  var k=+m2[1],s=m2[2],c=m2[3];
  var fill=c==='r'?CR[s]:(c==='o'?CO[s]:CB[s]);
  el('circle',{cx:cx(k),cy:cy(i),r:R[s],fill:fill},gd);
 }
}
})();
</script>
</body></html>
